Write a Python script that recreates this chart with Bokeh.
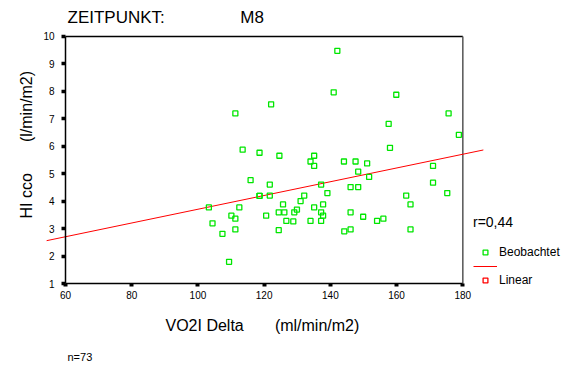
from bokeh.plotting import figure
from bokeh.models import Range1d, FixedTicker, Legend, LegendItem, ColumnDataSource, Title
from bokeh.embed import file_html
from bokeh.resources import INLINE

# ---- data ----
vo2i_delta = [142.1, 141.0, 159.9, 122.1, 111.3, 175.7, 157.6, 178.8, 158.0, 113.5,
              118.6, 124.6, 135.1, 134.0, 135.1, 144.1, 147.6, 151.1, 171.0, 148.4,
              151.7, 115.9, 171.0, 121.7, 137.2, 146.1, 148.4, 175.3, 139.1, 118.6,
              118.6, 121.7, 132.1, 162.9, 131.0, 125.7, 137.8, 164.2, 103.3, 112.5,
              135.1, 129.9, 124.4, 126.1, 129.1, 137.2, 146.1, 110.1, 120.6, 137.8,
              149.9, 111.3, 156.0, 126.7, 128.8, 134.0, 137.2, 154.1, 104.4, 111.3,
              124.4, 144.2, 146.1, 164.2, 107.4, 109.4]
hi_cco = [9.48, 7.97, 7.88, 7.53, 7.20, 7.20, 6.82, 6.42, 5.95, 5.88,
          5.77, 5.66, 5.66, 5.45, 5.29, 5.45, 5.45, 5.38, 5.29, 5.08,
          4.89, 4.77, 4.68, 4.61, 4.61, 4.52, 4.52, 4.30, 4.30, 4.20,
          4.20, 4.21, 4.21, 4.21, 4.01, 3.89, 3.89, 3.89, 3.78, 3.78,
          3.78, 3.70, 3.60, 3.60, 3.60, 3.60, 3.60, 3.48, 3.48, 3.48,
          3.44, 3.37, 3.37, 3.29, 3.27, 3.29, 3.29, 3.29, 3.20, 2.98,
          2.95, 2.91, 2.98, 2.98, 2.82, 1.80]
reg_x = [54.3, 186.2]
reg_y = [2.57, 5.87]
x_ticks = [60, 80, 100, 120, 140, 160, 180]
y_ticks = [1, 2, 3, 4, 5, 6, 7, 8, 9, 10]

FONT = "Liberation Sans"
NB = "\u00a0"
GREEN = "#00e600"
RED = "#ff0000"

p = figure(width=580, height=367, output_backend="svg", toolbar_location=None,
           x_range=Range1d(52.45, 215.54), y_range=Range1d(0.3195, 10.291),
           min_border_left=40, min_border_right=0, min_border_top=28, min_border_bottom=65)
p.grid.visible = False
p.outline_line_color = None
p.background_fill_color = "white"
p.border_fill_color = "white"

# x axis (drawn at y = 1)
xa = p.xaxis[0]
xa.ticker = FixedTicker(ticks=x_ticks)
xa.fixed_location = y_ticks[0]
xa.bounds = (x_ticks[0], x_ticks[-1])
xa.axis_line_width = 1.5
xa.axis_line_color = "black"
xa.major_tick_in = 0
xa.major_tick_out = 3
xa.major_tick_line_width = 4
xa.minor_tick_line_color = None
xa.major_label_standoff = 4
xa.major_label_text_font = FONT
xa.major_label_text_font_size = "10px"
xa.major_label_text_color = "black"

# y axis (drawn at x = 60)
ya = p.yaxis[0]
ya.ticker = FixedTicker(ticks=y_ticks)
ya.fixed_location = x_ticks[0]
ya.bounds = (y_ticks[0], y_ticks[-1])
ya.axis_line_width = 1.5
ya.axis_line_color = "black"
ya.major_tick_in = 0
ya.major_tick_out = 4
ya.major_tick_line_width = 3.5
ya.minor_tick_line_color = None
ya.major_label_standoff = 7
ya.major_label_text_font = FONT
ya.major_label_text_font_size = "10px"
ya.major_label_text_color = "black"

# box: top and right edges
p.line(x=[x_ticks[0], x_ticks[-1]], y=[y_ticks[-1], y_ticks[-1]], line_color="black", line_width=1.5)
p.line(x=[x_ticks[-1], x_ticks[-1]], y=[y_ticks[0], y_ticks[-1]], line_color="#555555", line_width=1.5)

# regression line
reg_r = p.line(x=reg_x, y=reg_y, line_color=RED, line_width=1)

# points
src = ColumnDataSource(dict(x=vo2i_delta, y=hi_cco))
pts = p.scatter(x="x", y="y", source=src, marker="square", size=5,
                fill_color=None, line_color=GREEN, line_width=1.3)

# hidden renderer only used for the red square legend entry
lin_sq = p.scatter(x=reg_x, y=reg_y, marker="square", size=5,
                   fill_color=None, line_color=RED, line_width=1.3, visible=False)

legend = Legend(items=[LegendItem(label="Beobachtet", renderers=[pts]),
                       LegendItem(label=NB, renderers=[reg_r]),
                       LegendItem(label="Linear", renderers=[lin_sq])],
                location=(433, 15), title="r=0,44")
legend.title_text_font = FONT
legend.title_text_font_size = "14px"
legend.title_text_font_style = "normal"
legend.title_text_color = "black"
legend.title_standoff = 15
legend.label_text_font = FONT
legend.label_text_font_size = "12px"
legend.label_text_color = "black"
legend.glyph_width = 24
legend.glyph_height = 12
legend.label_height = 12
legend.label_standoff = 2
legend.spacing = 0
legend.padding = 0
legend.margin = 0
legend.border_line_color = None
legend.background_fill_alpha = 0
legend.inactive_fill_alpha = 0
p.add_layout(legend)

# titles in the side panels
def title(text, side, size, offset, standoff):
    t = Title(text=text, align="left", offset=offset, standoff=standoff,
              text_font=FONT, text_font_size=size, text_font_style="normal", text_color="black")
    p.add_layout(t, side)

title("ZEITPUNKT:" + NB * 16 + "M8", "above", "17px", 27, 4)
title("HI cco" + NB * 7 + "(l/min/m2)", "left", "16px", 84, 11)
title("VO2I Delta" + NB * 7 + "(ml/min/m2)", "below", "16px", 125, 25)
title("n=73", "below", "11px", 27, 4)

open("out.html", "w").write(file_html(p, INLINE))
